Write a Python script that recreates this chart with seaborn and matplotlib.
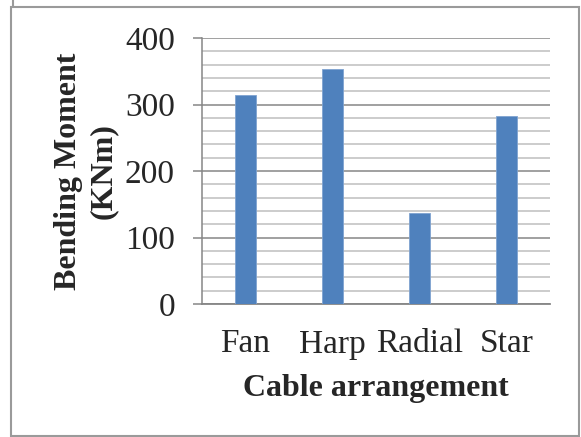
import matplotlib
matplotlib.use("Agg")
import matplotlib.pyplot as plt
from matplotlib.lines import Line2D
from matplotlib.patches import Rectangle
from matplotlib.ticker import MultipleLocator
import seaborn as sns
import pandas as pd

# data
arrangements = ["Fan", "Harp", "Radial", "Star"]
moments = [314, 354, 137, 282]

data = pd.DataFrame({"Cable arrangement": arrangements, "Bending Moment": moments})

sns.set_style("white")
plt.rcParams["font.family"] = ["Liberation Serif", "DejaVu Serif"]

fig = plt.figure(figsize=(5.81, 4.37), dpi=100)
ax = fig.add_axes([202 / 581, 1 - 304 / 437, 348 / 581, 266 / 437])

sns.barplot(data=data, x="Cable arrangement", y="Bending Moment", color="#4F81BD",
            saturation=1, width=0.25, edgecolor="#7FA3D0", linewidth=0.6, ax=ax, zorder=3)

ax.set_xlim(-0.5, 3.5)
ax.set_ylim(0, 400)
ax.yaxis.set_major_locator(MultipleLocator(100))
ax.yaxis.set_minor_locator(MultipleLocator(20))
ax.grid(True, which="major", axis="y", color="#868686", linewidth=1.1, zorder=1)
ax.grid(True, which="minor", axis="y", color="#BEBEBE", linewidth=1.1, zorder=1)
ax.set_axisbelow(True)

for side in ["top", "right"]:
    ax.spines[side].set_visible(False)
ax.spines["left"].set_color("#868686")
ax.spines["bottom"].set_color("#868686")
ax.spines["left"].set_linewidth(1.1)
ax.spines["bottom"].set_linewidth(1.3)

ax.tick_params(axis="y", which="major", direction="out", length=6.5, width=1.1,
               color="#868686", labelsize=24, pad=13, left=True)
ax.tick_params(axis="y", which="minor", left=False)
ax.tick_params(axis="x", length=0, labelsize=24, pad=18)

ax.set_xlabel("Cable arrangement", fontsize=23, fontweight="bold")
ax.set_ylabel("Bending Moment\n(KNm)", fontsize=23, fontweight="bold", linespacing=1.25)
ax.xaxis.set_label_coords(0.5, -0.262)
ax.yaxis.set_label_coords(-0.242, 0.5)

# outer frame of the figure
fig.add_artist(Rectangle((11 / 581, 1 / 437), 568 / 581, 429 / 437, transform=fig.transFigure,
                         fill=False, edgecolor="#9A9A9A", linewidth=1.5))
fig.add_artist(Line2D([13 / 581, 13 / 581], [430 / 437, 1.0], transform=fig.transFigure,
                      color="#9A9A9A", linewidth=1.5))

fig.savefig("out.png", dpi=100)
